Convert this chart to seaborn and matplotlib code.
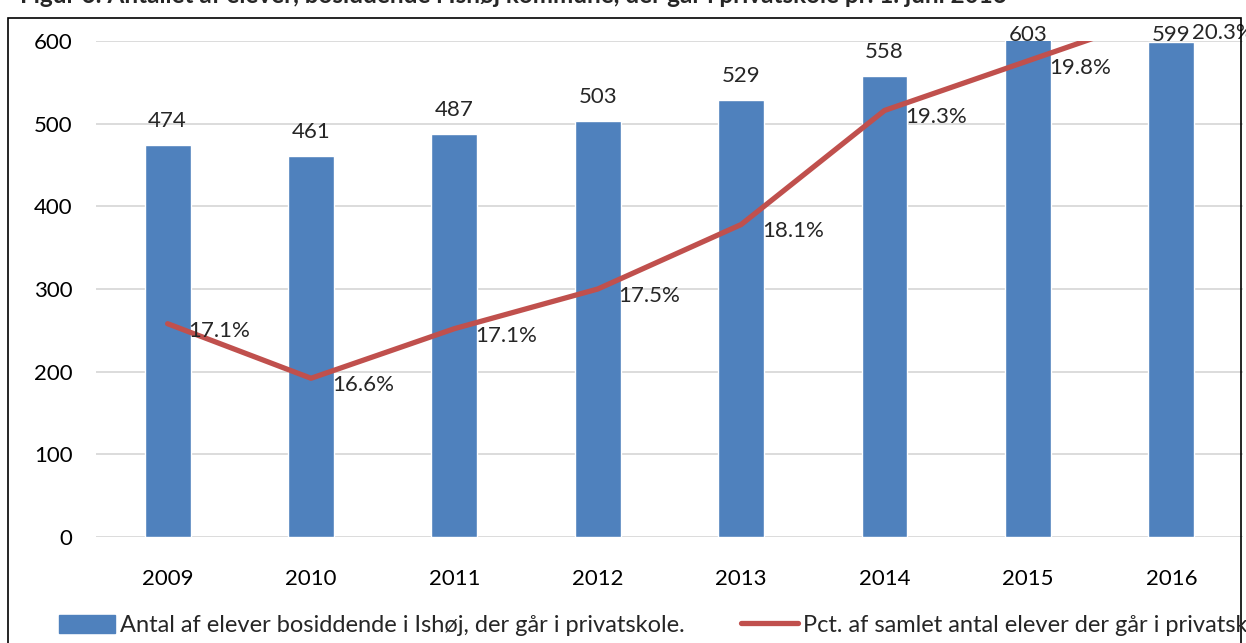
import numpy as np
import pandas as pd
import matplotlib.pyplot as plt
import matplotlib.patches as mpatches
from matplotlib.lines import Line2D
import seaborn as sns

# Data
years = ["2009", "2010", "2011", "2012", "2013", "2014", "2015", "2016"]
antal = [474, 461, 487, 503, 529, 558, 603, 599]
pct = [17.15, 16.6, 17.1, 17.5, 18.15, 19.3, 19.8, 20.3]
pct_labels = ["17.1%", "16.6%", "17.1%", "17.5%", "18.1%", "19.3%", "19.8%", "20.3%"]

title = "Figur 6: Antallet af elever, bosiddende i Ishøj kommune, der går i privatskole pr. 1. juni 2016"
bar_name = "Antal af elever bosiddende i Ishøj, der går i privatskole."
line_name = "Pct. af samlet antal elever der går i privatskole."

bar_color = "#4F81BD"
line_color = "#C0504D"

sns.set_style("white")
plt.rcParams["font.family"] = ["Lato", "DejaVu Sans"]

df = pd.DataFrame({"year": years, "antal": antal, "pct": pct})

fig = plt.figure(figsize=(12.46, 6.43), dpi=100)
ax = fig.add_axes([0.077, 0.1649, 0.9206, 0.7713])

sns.barplot(data=df, x="year", y="antal", color=bar_color, width=0.32,
            saturation=1, ax=ax)
ax.set_ylim(0, 600)
ax.set_xlim(-0.5, len(years) - 0.5)
ax.set_yticks(range(0, 601, 100))
ax.yaxis.grid(True, color="#D9D9D9", linewidth=1.3)
ax.set_axisbelow(True)
ax.set_xlabel("")
ax.set_ylabel("")
ax.tick_params(axis="both", length=0, labelsize=16, colors="black")
ax.tick_params(axis="x", pad=23)
ax.tick_params(axis="y", pad=17)
for s in ax.spines.values():
    s.set_visible(False)

# value labels above bars (kept inside the chart area, as the original does)
for i, v in enumerate(antal):
    ax.text(i, min(v, 578) + 17, str(v), ha="center", va="bottom",
            fontsize=16, clip_on=False)

ax2 = ax.twinx()
sns.lineplot(x=np.arange(len(years)), y=pct, color=line_color, linewidth=3.8,
             ax=ax2, legend=False)
ax2.set_ylim(15, 20)
ax2.set_yticks([])
ax2.set_ylabel("")
for s in ax2.spines.values():
    s.set_visible(False)
for i, (v, lab) in enumerate(zip(pct, pct_labels)):
    ax2.annotate(lab, (i, min(v, 20.15)), xytext=(15, -5), textcoords="offset points",
                 ha="left", va="center", fontsize=16, clip_on=False,
                 annotation_clip=False)

# title, partly cut at top like the reference
fig.text(0.016, 1 - 3 / 643, title, fontsize=17.5, fontweight="bold",
         ha="left", va="baseline")

# frame around chart area
fig.add_artist(mpatches.Rectangle((8 / 1246, -0.05), 1233 / 1246, 1.05 - 18 / 643,
                                  transform=fig.transFigure, fill=False,
                                  edgecolor="black", linewidth=1.2))

handles = [mpatches.Patch(color=bar_color, label=bar_name),
           Line2D([0], [0], color=line_color, linewidth=3.8, label=line_name)]
fig.legend(handles=handles, loc="lower left", bbox_to_anchor=(0.03, -0.022),
           ncol=2, frameon=False, fontsize=17, handlelength=2.4,
           handleheight=0.8, handletextpad=0.2, columnspacing=2.4)

fig.savefig("out.png", dpi=100)
